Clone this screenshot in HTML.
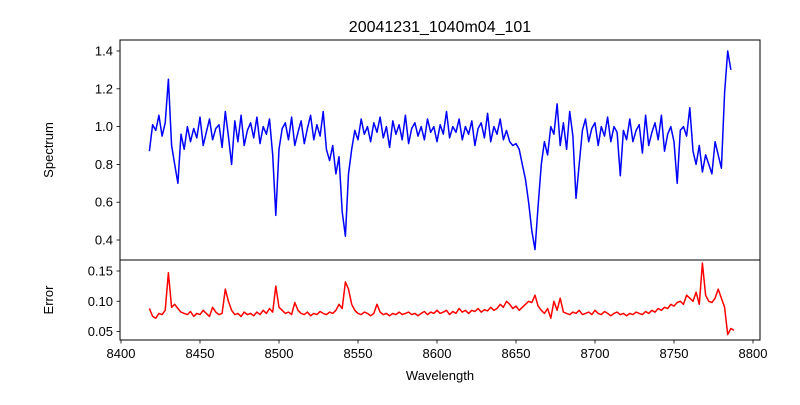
<!DOCTYPE html>
<html><head><meta charset="utf-8"><style>
body{margin:0;background:#fff}
svg{font-family:"Liberation Sans","DejaVu Sans",sans-serif}
</style></head><body>
<svg id="chart" width="800" height="400" xmlns="http://www.w3.org/2000/svg">
<rect width="800" height="400" fill="#fff"/>
<text x="440" y="32" font-size="16" text-anchor="middle">20041231_1040m04_101</text>
<g id="topPanel"></g><g id="botPanel"></g>
<text x="440" y="380" font-size="13" text-anchor="middle">Wavelength</text>
<text transform="translate(53,150) rotate(-90)" font-size="13" text-anchor="middle">Spectrum</text>
<text transform="translate(53,300) rotate(-90)" font-size="13" text-anchor="middle">Error</text>
</svg>
<script>
const wlStart = 8418;
const wlStep = 2;
const spectrum = [0.87,1.01,0.98,1.06,0.95,1.02,1.25,0.90,0.80,0.70,0.96,0.88,1.00,0.92,0.99,0.94,1.05,0.90,0.97,1.04,0.93,0.99,1.01,0.89,1.08,0.95,0.80,1.03,0.92,1.06,0.90,0.98,1.02,0.94,1.05,0.91,1.00,0.96,1.04,0.85,0.53,0.88,0.99,1.02,0.93,1.05,0.90,0.97,1.03,0.91,0.99,1.06,0.93,1.01,0.95,1.08,0.88,0.82,0.90,0.75,0.84,0.55,0.42,0.75,0.88,0.98,0.93,1.04,0.96,1.00,0.92,1.02,0.97,1.05,0.94,1.00,0.89,1.03,0.96,1.01,0.93,1.06,0.91,0.99,1.02,0.95,1.00,0.93,1.04,0.97,1.00,0.92,1.01,0.96,1.08,0.94,1.00,0.97,1.04,0.93,1.00,0.96,1.03,0.90,0.99,1.02,0.94,1.07,0.92,1.00,0.96,1.04,0.93,0.98,0.92,0.90,0.91,0.88,0.80,0.72,0.60,0.45,0.35,0.58,0.80,0.92,0.85,1.00,0.96,1.12,0.90,1.02,0.88,1.08,0.95,0.62,0.80,0.98,1.04,0.92,0.99,1.02,0.90,1.00,0.95,1.05,0.92,1.00,0.97,0.74,0.98,0.93,1.04,0.92,0.98,1.01,0.86,1.06,0.90,0.97,1.02,0.93,1.06,0.87,0.96,1.00,0.92,0.70,0.98,1.00,0.95,1.10,0.87,0.80,0.90,0.76,0.85,0.80,0.75,0.92,0.85,0.78,1.18,1.40,1.30];
const errors = [0.088,0.075,0.072,0.080,0.078,0.085,0.147,0.090,0.095,0.088,0.082,0.080,0.078,0.083,0.075,0.080,0.078,0.085,0.080,0.075,0.090,0.082,0.078,0.080,0.120,0.100,0.085,0.078,0.080,0.075,0.082,0.078,0.080,0.076,0.082,0.078,0.085,0.080,0.088,0.082,0.125,0.090,0.085,0.080,0.082,0.078,0.098,0.085,0.080,0.078,0.082,0.076,0.080,0.078,0.083,0.080,0.078,0.082,0.080,0.085,0.095,0.088,0.132,0.120,0.095,0.085,0.080,0.078,0.082,0.080,0.076,0.080,0.095,0.082,0.078,0.080,0.076,0.080,0.078,0.082,0.078,0.080,0.082,0.078,0.080,0.076,0.080,0.083,0.078,0.082,0.080,0.085,0.080,0.082,0.085,0.078,0.083,0.080,0.088,0.082,0.085,0.080,0.085,0.083,0.088,0.082,0.086,0.084,0.090,0.085,0.088,0.095,0.090,0.100,0.095,0.088,0.092,0.085,0.090,0.095,0.100,0.098,0.110,0.092,0.085,0.080,0.088,0.072,0.100,0.085,0.105,0.082,0.080,0.078,0.082,0.080,0.085,0.078,0.080,0.082,0.078,0.085,0.080,0.078,0.083,0.080,0.076,0.080,0.082,0.078,0.080,0.076,0.080,0.078,0.082,0.080,0.078,0.083,0.080,0.085,0.082,0.088,0.085,0.090,0.088,0.095,0.092,0.098,0.100,0.095,0.110,0.105,0.100,0.115,0.095,0.163,0.110,0.100,0.098,0.105,0.120,0.105,0.090,0.045,0.055,0.052];
const xTicks = [8400,8450,8500,8550,8600,8650,8700,8750,8800];
const specTicks = [0.4,0.6,0.8,1.0,1.2,1.4];
const errTicks = [0.05,0.10,0.15];

const NS="http://www.w3.org/2000/svg";
const L=120,R=760;
const xs=w=>121+(w-8400)*1.58;
const ysT=v=>240-(v-0.4)*189;
const ysB=v=>331.5-(v-0.05)*605;
function mk(tag,attrs,parent){const e=document.createElementNS(NS,tag);for(const k in attrs)e.setAttribute(k,attrs[k]);parent.appendChild(e);return e;}
const gTop=document.getElementById('topPanel'), gBot=document.getElementById('botPanel');

function panel(g,y0,y1,data,ys,ticks,color,fmt,name){
  let d='';data.forEach((v,i)=>{d+=(i?'L':'M')+xs(wlStart+i*wlStep).toFixed(1)+','+ys(v).toFixed(1);});
  const p=mk('path',{d:d,fill:'none',stroke:color,'stroke-width':1.5,'stroke-linejoin':'round'},g);
  
  
  ticks.forEach(t=>{const y=ys(t);
    mk('line',{x1:L-3.5,x2:L,y1:y,y2:y,stroke:'#000','stroke-width':0.8},g);
    const tx=mk('text',{x:L-7,y:y+4.5,'font-size':13,'text-anchor':'end'},g);tx.textContent=fmt(t);
    
    
  });
  const r=mk('rect',{x:L,y:y0,width:R-L,height:y1-y0,fill:'none',stroke:'#000','stroke-width':1},g);
  
  
}
panel(gTop,40,260,spectrum,ysT,specTicks,'#0000ff',t=>t.toFixed(1),'spectrum');
panel(gBot,260,340,errors,ysB,errTicks,'#ff0000',t=>t.toFixed(2),'error');
xTicks.forEach(t=>{const x=xs(t);
  mk('line',{x1:x,x2:x,y1:340,y2:343.5,stroke:'#000','stroke-width':0.8},gBot);
  const tx=mk('text',{x:x,y:358,'font-size':13,'text-anchor':'middle'},gBot);tx.textContent=t;
  
  
});
</script>
</body></html>
